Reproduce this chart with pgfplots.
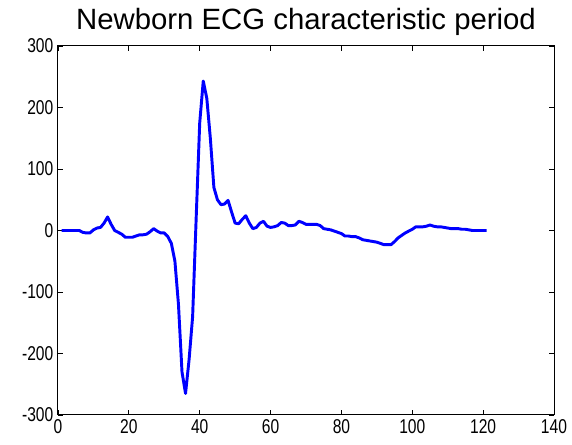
\documentclass[border=0pt]{standalone}
\usepackage{fontspec}
\setmainfont{Liberation Sans}
\newfontfamily\tickfont[FakeStretch=0.78]{Liberation Sans}
\usepackage{pgfplots}
\pgfplotsset{compat=1.18}
\usetikzlibrary{calc}
\definecolor{ecgblue}{RGB}{0,0,255}

\begin{document}
\begin{tikzpicture}
\begin{axis}[
  scale only axis,
  width=372pt, height=276.75pt,
  xmin=0, xmax=140, ymin=-300, ymax=300,
  xtick={0,20,...,140},
  ytick={-300,-200,...,300},
  tick align=inside,
  major tick length=4pt,
  tick style={black, line width=0.6pt},
  axis line style={black, line width=0.75pt},
  ticklabel style={font=\tickfont\fontsize{15}{15}\selectfont},
  /pgf/number format/assume math mode=true,
  title={Newborn ECG characteristic period},
  title style={font=\fontsize{22}{22}\selectfont, yshift=-2pt},
]
\addplot[ecgblue, line width=2.2pt, line join=round] coordinates {
  (1,0)(2,0)(3,0)(4,0)(5,0)(6,0)(7,-3)(8,-4)(9,-4)(10,1)
  (11,4)(12,5)(13,12)(14,22)(15,10)(16,0)(17,-3)(18,-6)(19,-11)(20,-11)
  (21,-11)(22,-9)(23,-7)(24,-7)(25,-6)(26,-2)(27,3)(28,-1)(29,-4)(30,-4)
  (31,-10)(32,-21)(33,-50)(34,-120)(35,-230)(36,-265)(37,-210)(38,-140)(39,20)(40,175)
  (41,243)(42,215)(43,150)(44,70)(45,50)(46,42)(47,43)(48,49)(49,30)(50,12)
  (51,11)(52,18)(53,24)(54,12)(55,3)(56,5)(57,12)(58,15)(59,7)(60,5)
  (61,6)(62,8)(63,13)(64,12)(65,8)(66,8)(67,9)(68,15)(69,13)(70,10)
  (71,10)(72,10)(73,10)(74,8)(75,3)(76,2)(77,1)(78,-1)(79,-3)(80,-5)
  (81,-9)(82,-9)(83,-10)(84,-10)(85,-12)(86,-15)(87,-16)(88,-17)(89,-18)(90,-19)
  (91,-21)(92,-23)(93,-23)(94,-23)(95,-18)(96,-12)(97,-8)(98,-4)(99,-1)(100,2)
  (101,6)(102,6)(103,6)(104,7)(105,9)(106,7)(107,6)(108,6)(109,5)(110,4)
  (111,3)(112,3)(113,3)(114,2)(115,2)(116,1)(117,0)(118,0)(119,0)(120,0)
  (121,0)
};
\end{axis}
\pgfresetboundingbox
\path ($(current axis.south west)+(-43.5pt,-22.5pt)$) rectangle ($(current axis.north east)+(13.5pt,34.5pt)$);
\end{tikzpicture}
\end{document}
